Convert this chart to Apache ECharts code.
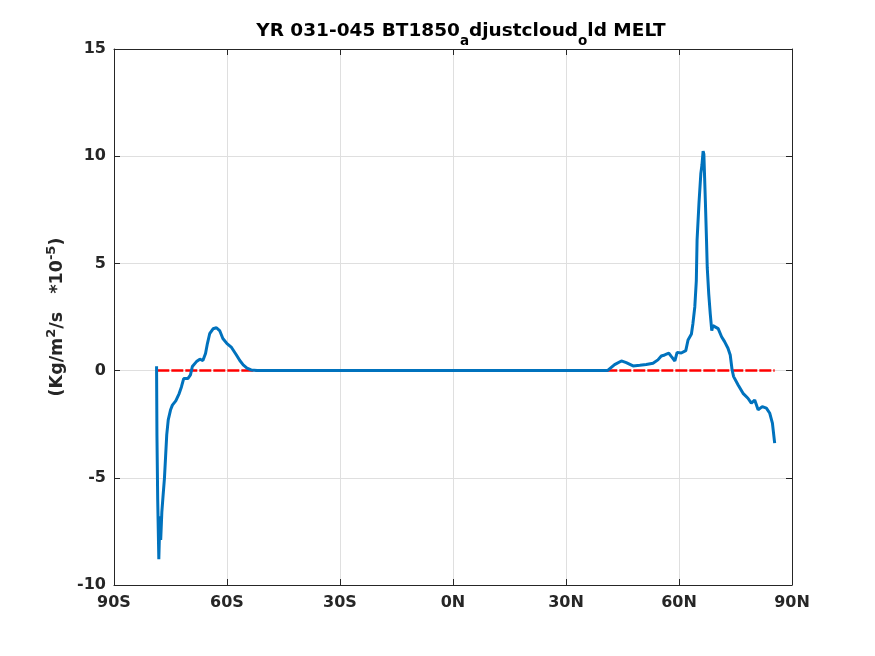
<!DOCTYPE html>
<html>
<head>
<meta charset="utf-8">
<script src="https://cdn.jsdelivr.net/npm/echarts@6/dist/echarts.min.js"></script>
<style>
  html, body { margin: 0; padding: 0; background: #fff; }
  #chart { width: 875px; height: 656px; }
</style>
</head>
<body>
<div id="chart"></div>
<script>
// latitudes (deg, S negative) and melt values (*1e-5 Kg/m2/s)
var meltLat = [
  -78.7, -78.6, -78.4, -78.1, -77.8, -77.6, -77.3, -77.0, -76.6, -76.3,
  -76.0, -75.6, -75.0, -74.5, -73.6, -72.7, -72.1, -71.5, -70.4, -69.7,
  -69.2, -68.1, -67.2, -66.4, -65.7, -65.2, -64.6, -63.7, -62.8, -61.9,
  -61.1, -60.0, -58.8, -57.5, -56.6, -55.7, -54.7, -53.6, -52.0, -30.0,
  0.0, 30.0, 41.0, 42.9, 44.7, 46.0, 47.8, 49.6, 51.3, 53.1,
  54.4, 55.3, 56.2, 57.3, 58.0, 58.9, 59.5, 60.6, 61.8, 62.4,
  63.3, 63.7, 64.2, 64.6, 64.8, 65.3, 65.8, 66.1, 66.4, 66.6,
  66.8, 67.0, 67.3, 67.5, 67.9, 68.3, 68.7, 69.0, 69.5, 70.4,
  71.3, 72.1, 73.0, 73.6, 74.1, 74.5, 75.7, 77.0, 78.3, 79.2,
  80.1, 81.0, 82.1, 83.2, 84.1, 84.8, 85.4
];
var meltVal = [
  0.2, -3.0, -6.0, -8.8, -6.8, -7.9, -6.6, -5.9, -5.0, -4.0,
  -3.0, -2.3, -1.84, -1.61, -1.41, -1.07, -0.76, -0.37, -0.37, -0.2,
  0.19, 0.42, 0.53, 0.47, 0.8, 1.26, 1.72, 1.95, 2.0, 1.85,
  1.5, 1.26, 1.08, 0.73, 0.47, 0.27, 0.12, 0.03, 0.0, 0.0,
  0.0, 0.0, 0.0, 0.28, 0.45, 0.37, 0.22, 0.25, 0.28, 0.34,
  0.5, 0.68, 0.73, 0.81, 0.65, 0.45, 0.85, 0.82, 0.93, 1.43,
  1.71, 2.2, 2.98, 4.2, 6.1, 7.8, 9.2, 9.6, 10.24, 10.1,
  9.0, 7.9, 6.1, 4.8, 3.57, 2.65, 1.86, 2.1, 2.17, 1.96,
  1.58, 1.35, 1.04, 0.73, 0.03, -0.28, -0.67, -1.06, -1.29, -1.52,
  -1.37, -1.83, -1.68, -1.75, -1.99, -2.45, -3.38
];
// zero reference line
var zeroLat = [-78.5, 85.4];
var zeroVal = [0, 0];

var xTicks = { '-90': '90S', '-60': '60S', '-30': '30S', '0': '0N', '30': '30N', '60': '60N', '90': '90N' };

var meltData = [];
for (var i = 0; i < meltLat.length; i++) {
    meltData.push([meltLat[i], meltVal[i]]);
}
var zeroData = [];
for (var j = 0; j < zeroLat.length; j++) {
    zeroData.push([zeroLat[j], zeroVal[j]]);
}

var font = 'DejaVu Sans';
var txt = '#262626';
var boxLine = { show: true, onZero: false, lineStyle: { color: '#262626', width: 1 } };
var tick = { show: true, inside: true, length: 6, lineStyle: { color: '#262626' } };

var chart = echarts.init(document.getElementById('chart'));
var opt = {
    animation: false,
    backgroundColor: '#fff',
    title: {
        text: 'YR 031-045 BT1850{sub|a}djustcloud{sub|o}ld MELT',
        left: 456,
        top: 10,
        textAlign: 'center',
        textStyle: {
            fontFamily: font, fontWeight: 'bold', fontSize: 18.5, color: '#000',
            rich: {
                sub: { fontFamily: font, fontWeight: 'bold', fontSize: 13.5, color: '#000', padding: [19, 0, 0, 0] }
            }
        }
    },
    grid: { left: 114, right: 83, top: 49, bottom: 71, containLabel: false },
    xAxis: [{
        type: 'value', min: -90, max: 90, interval: 30,
        axisLine: boxLine, axisTick: tick,
        axisLabel: {
            fontFamily: font, fontWeight: 'bold', fontSize: 16, color: txt, margin: 10,
            formatter: function (v) { return xTicks[String(v)]; }
        },
        splitLine: { show: true, lineStyle: { color: '#dfdfdf', width: 1 } }
    }, {
        type: 'value', min: -90, max: 90, interval: 30, position: 'top',
        axisLine: boxLine, axisTick: tick, axisLabel: { show: false }, splitLine: { show: false }
    }],
    yAxis: [{
        type: 'value', min: -10, max: 15, interval: 5,
        axisLine: boxLine, axisTick: tick,
        axisLabel: { fontFamily: font, fontWeight: 'bold', fontSize: 16, color: txt, margin: 8 },
        splitLine: { show: true, lineStyle: { color: '#dfdfdf', width: 1 } },
        name: '(Kg/m{sup|2}/s   *10{sup|-5})',
        nameLocation: 'middle',
        nameGap: 42,
        nameTextStyle: {
            fontFamily: font, fontWeight: 'bold', fontSize: 17.5, color: txt,
            rich: {
                sup: { fontFamily: font, fontWeight: 'bold', fontSize: 13, color: txt, padding: [0, 0, 12, 0] }
            }
        }
    }, {
        type: 'value', min: -10, max: 15, interval: 5, position: 'right',
        axisLine: boxLine, axisTick: tick, axisLabel: { show: false }, splitLine: { show: false }
    }],
    series: [{
        type: 'line',
        data: zeroData,
        symbol: 'none',
        lineStyle: { color: '#ff0000', width: 2.5, type: [12, 2] },
        z: 3
    }, {
        type: 'line',
        data: meltData,
        symbol: 'none',
        lineStyle: { color: '#0072bd', width: 3 },
        z: 4
    }]
};
chart.setOption(opt);
</script>
</body>
</html>
